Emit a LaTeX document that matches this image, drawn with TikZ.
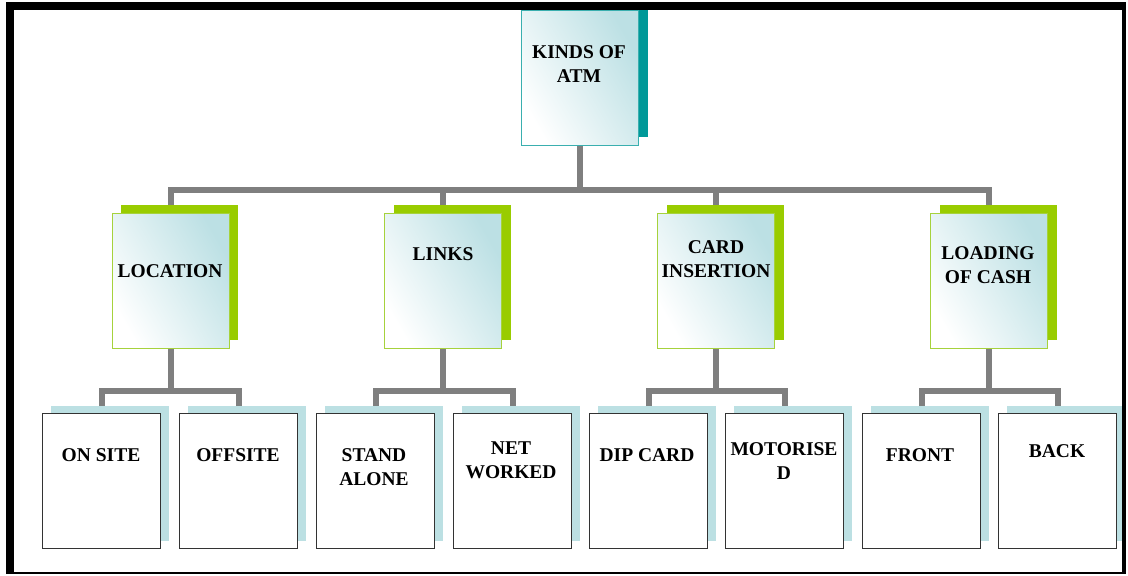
\documentclass[tikz,border=0pt]{standalone}
\usepackage{fontspec}
\setmainfont{Liberation Serif}
\definecolor{conngray}{HTML}{7F7F7F}
\definecolor{lteal}{HTML}{BCE0E4}
\definecolor{dteal}{HTML}{009999}
\definecolor{tealborder}{HTML}{3AAFAF}
\definecolor{lgreen}{HTML}{99CC00}
\definecolor{gborder}{HTML}{A6D23C}
\definecolor{lblue}{HTML}{BCE0E3}
\definecolor{boxborder}{HTML}{333333}
\tikzset{
  conn/.style={draw=conngray, line width=6pt},
  gradbox/.style={rectangle, anchor=north west, minimum width=117pt, minimum height=135pt, inner sep=0pt,
    top color=lteal, bottom color=white, shading angle=-60, line width=1pt},
  topbox/.style={gradbox, draw=tealborder},
  midbox/.style={gradbox, draw=gborder},
  leafbox/.style={rectangle, anchor=north west, minimum width=118pt, minimum height=135pt, inner sep=0pt,
    draw=boxborder, fill=white, line width=1.4pt},
  topshadow/.style={rectangle, anchor=north west, minimum width=117pt, minimum height=135pt, inner sep=0pt, fill=dteal},
  midshadow/.style={rectangle, anchor=north west, minimum width=117pt, minimum height=135pt, inner sep=0pt, fill=lgreen},
  leafshadow/.style={rectangle, anchor=north west, minimum width=118pt, minimum height=135pt, inner sep=0pt, fill=lblue},
  lbl/.style={font=\fontsize{19.5}{24}\selectfont\bfseries, align=center, inner sep=0pt, text=black},
}
\begin{document}
\begin{tikzpicture}[x=1pt,y=-1pt]
\useasboundingbox (0,0) rectangle (1128,576);
% bus levels
\coordinate (ya) at (0,190);
\coordinate (yb) at (0,391);
% boxes (named, used for connector routing)
\node[topbox] (kinds) at (521,10) {};
\node[midbox] (loc) at (112,213) {};
\node[midbox] (links) at (384,213) {};
\node[midbox] (card) at (657,213) {};
\node[midbox] (load) at (930,213) {};
\node[leafbox] (on) at (42,413) {};
\node[leafbox] (off) at (179,413) {};
\node[leafbox] (stand) at (316,413) {};
\node[leafbox] (net) at (453,413) {};
\node[leafbox] (dip) at (589,413) {};
\node[leafbox] (mot) at (725,413) {};
\node[leafbox] (front) at (862,413) {};
\node[leafbox] (back) at (998,413) {};
% connectors
\draw[conn] (kinds.south) -- (kinds.south |- ya);
\foreach \n in {loc,links,card,load}{ \draw[conn] (\n.north) |- (kinds.south |- ya); }
\foreach \p/\a/\b in {loc/on/off, links/stand/net, card/dip/mot, load/front/back}{
  \draw[conn] (\p.south) -- (\p.south |- yb);
  \draw[conn] (\a.north) |- (\p.south |- yb);
  \draw[conn] (\b.north) |- (\p.south |- yb);
}
% shadows and boxes drawn over connectors
\node[topshadow] (ks) at (531,2) {};
\foreach \xx/\nm in {121/a,394/b,667/c,940/d}{ \node[midshadow] (ms\nm) at (\xx,205) {}; }
\foreach \xx/\nm in {42/a,179/b,316/c,453/d,589/e,725/f,862/g,998/h}{ \node[leafshadow] (ls\nm) at (\xx+9,406) {}; }
\node[topbox] (kinds2) at (521,10) {};
\foreach \xx/\nm in {112/a,384/b,657/c,930/d}{ \node[midbox] (mb\nm) at (\xx,213) {}; }
\foreach \xx/\nm in {42/a,179/b,316/c,453/d,589/e,725/f,862/g,998/h}{ \node[leafbox] (lb\nm) at (\xx,413) {}; }
% labels
\node[lbl] (tk) at (579,64) {KINDS OF\\ATM};
\node[lbl] (t1) at (170,271) {LOCATION};
\node[lbl] (t2) at (443,254) {LINKS};
\node[lbl] (t3) at (716,259.5) {CARD\\INSERTION};
\node[lbl] (t4) at (988,265.5) {LOADING\\OF CASH};
\node[lbl] (ta) at (101,455) {ON SITE};
\node[lbl] (tb) at (238,455) {OFFSITE};
\node[lbl] (tc) at (374,467.5) {STAND\\ALONE};
\node[lbl] (td) at (511,460.5) {NET\\WORKED};
\node[lbl] (te) at (647,455) {DIP CARD};
\node[lbl] (tf) at (784,461) {MOTORISE\\D};
\node[lbl] (tg) at (920,455) {FRONT};
\node[lbl] (th) at (1057,451) {BACK};
% frame
\fill[black] (6,2) rectangle (14,574);
\fill[black] (6,2) rectangle (1126,10);
\fill[black] (1122,2) rectangle (1126,574);
\fill[black] (6,572) rectangle (1126,574);
\end{tikzpicture}
\end{document}
